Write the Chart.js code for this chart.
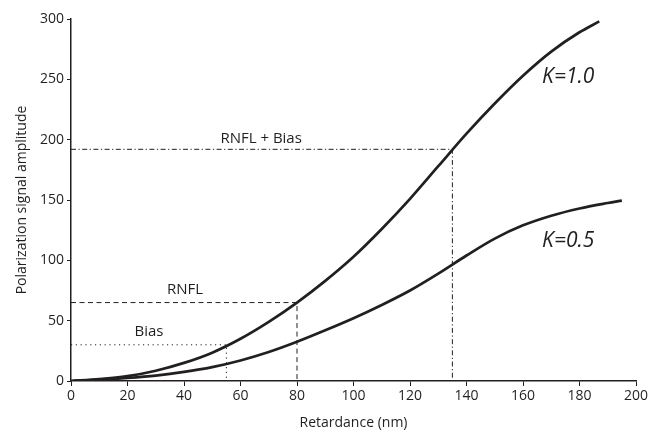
<!DOCTYPE html>
<html>
<head>
<meta charset="utf-8">
<script src="https://cdn.jsdelivr.net/npm/chart.js@4.4.0/dist/chart.umd.min.js"></script>
<style>
  html, body { margin: 0; padding: 0; background: #fff; }
  #wrap { width: 660px; height: 433px; }
</style>
</head>
<body>
<div id="wrap"><canvas id="chart"></canvas></div>
<script>
// curve K=1.0 (retardance nm, amplitude)
let k1X = [0, 10, 20, 30, 40, 50, 60, 70, 80, 90, 100, 110, 120, 130, 140, 150, 160, 170, 180, 187];
let k1Y = [0, 1.5, 4, 8.5, 15, 23.5, 35, 49, 65, 83, 103, 126, 151, 178, 205, 230, 253, 273, 289, 298];
// curve K=0.5
let k05X = [0, 10, 20, 30, 40, 50, 60, 70, 80, 90, 100, 110, 120, 130, 140, 150, 160, 170, 180, 190, 195];
let k05Y = [0, 1, 2.5, 4.5, 7.5, 11.5, 17, 24, 32.5, 42, 52, 63, 75, 89, 104, 118, 129, 137, 143, 147.5, 149.5];

let biasPoint = [55, 30];
let rnflPoint = [80, 65];
let sumPoint = [135, 192];

let xTicks = [0, 20, 40, 60, 80, 100, 120, 140, 160, 180, 200];
let yTicks = [0, 50, 100, 150, 200, 250, 300];

const ink = '#231f20';
const font = "'Open Sans', 'Noto Sans', sans-serif";

function toPoints(xs, ys) {
    return xs.map((x, i) => ({ x: x, y: ys[i] }));
}

function corner(p) {
    return [{ x: 0, y: p[1] }, { x: p[0], y: p[1] }, { x: p[0], y: 0 }];
}

function refLine(p, dash) {
    return {
        data: corner(p),
        borderColor: ink,
        borderWidth: 1,
        borderDash: dash,
        pointRadius: 0,
        tension: 0,
        fill: false
    };
}

// text labels placed in data coordinates
let notes = [
    { text: 'RNFL + Bias', x: 67.3, y: 201, italic: false, size: 15 },
    { text: 'RNFL', x: 40.4, y: 75.5, italic: false, size: 15 },
    { text: 'Bias', x: 27.6, y: 40.6, italic: false, size: 15 },
    { text: 'K=1.0', x: 176, y: 252, italic: true, size: 21 },
    { text: 'K=0.5', x: 176, y: 116, italic: true, size: 21 }
];

const notePlugin = {
    id: 'notes',
    afterDatasetsDraw(chart) {
        const ctx = chart.ctx;
        const xs = chart.scales.x, ys = chart.scales.y;
        ctx.save();
        ctx.fillStyle = ink;
        ctx.textAlign = 'center';
        ctx.textBaseline = 'middle';
        for (const n of notes) {
            ctx.font = (n.italic ? 'italic ' : '') + n.size + 'px ' + font;
            ctx.fillText(n.text, xs.getPixelForValue(n.x), ys.getPixelForValue(n.y));
        }
        ctx.restore();
    }
};

new Chart(document.getElementById('chart').getContext('2d'), {
    type: 'line',
    data: {
        datasets: [
            {
                data: toPoints(k1X, k1Y),
                borderColor: ink,
                borderWidth: 2.7,
                pointRadius: 0,
                cubicInterpolationMode: 'monotone',
                fill: false
            },
            {
                data: toPoints(k05X, k05Y),
                borderColor: ink,
                borderWidth: 2.7,
                pointRadius: 0,
                cubicInterpolationMode: 'monotone',
                fill: false
            },
            refLine(sumPoint, [5, 2.5, 1.2, 2.5]),
            refLine(rnflPoint, [5, 3.5]),
            refLine(biasPoint, [1.2, 3.6])
        ]
    },
    options: {
        responsive: true,
        maintainAspectRatio: false,
        animation: false,
        layout: { padding: { top: 19, right: 24, left: 0, bottom: 0 } },
        plugins: {
            legend: { display: false },
            tooltip: { enabled: false }
        },
        scales: {
            x: {
                type: 'linear',
                min: 0,
                max: 200,
                afterFit(scale) { scale.height = 52; },
                afterBuildTicks(scale) { scale.ticks = xTicks.map(v => ({ value: v })); },
                grid: { display: true, drawOnChartArea: false, tickLength: 5, color: ink, tickColor: ink },
                border: { display: true, color: ink, width: 1.5 },
                ticks: { color: ink, font: { family: font, size: 14 }, padding: 2, maxRotation: 0 },
                title: {
                    display: true,
                    text: 'Retardance (nm)',
                    color: ink,
                    font: { family: font, size: 14 },
                    padding: { bottom: 2 }
                }
            },
            y: {
                type: 'linear',
                min: 0,
                max: 300,
                afterFit(scale) { scale.width = 71; },
                afterBuildTicks(scale) { scale.ticks = yTicks.map(v => ({ value: v })); },
                grid: { display: true, drawOnChartArea: false, tickLength: 4, color: ink, tickColor: ink },
                border: { display: true, color: ink, width: 1.5 },
                ticks: { color: ink, font: { family: font, size: 14 }, padding: 3 },
                title: {
                    display: true,
                    text: 'Polarization signal amplitude',
                    color: ink,
                    font: { family: font, size: 14 },
                    padding: { top: 14 }
                }
            }
        }
    },
    plugins: [notePlugin]
});
</script>
</body>
</html>
